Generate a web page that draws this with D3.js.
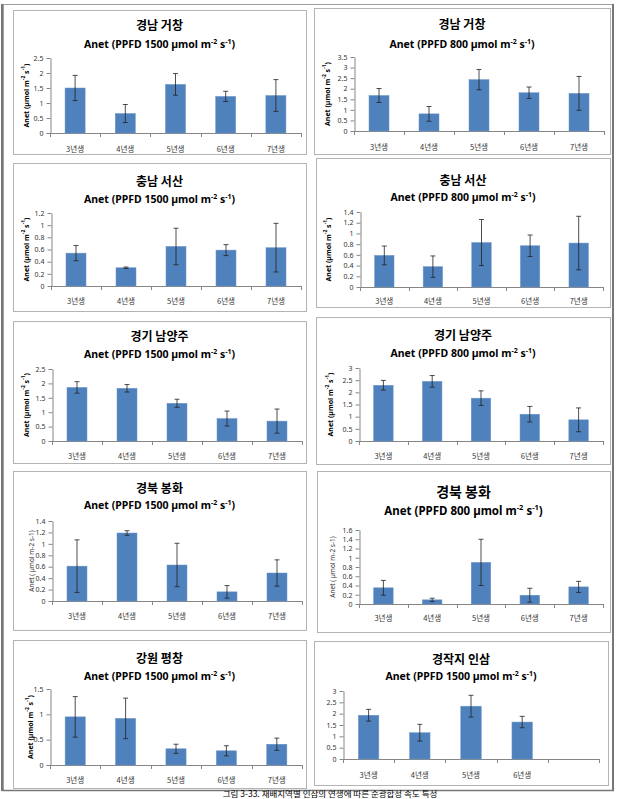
<!DOCTYPE html>
<html><head><meta charset="utf-8">
<script src="https://cdn.jsdelivr.net/npm/d3@7"></script>
<style>body{margin:0;background:#fff} svg{display:block}</style>
</head><body>
<script>
// ---------------- DATA ----------------
const categories = ["3년생", "4년생", "5년생", "6년생", "7년생"];
const categoriesCultivated = ["3년생", "4년생", "5년생", "6년생", ""];

const siteNames = ["경남 거창", "경남 거창", "충남 서산", "충남 서산", "경기 남양주",
                   "경기 남양주", "경북 봉화", "경북 봉화", "강원 평창", "경작지 인삼"];
const ppfdLevels = ["1500", "800", "1500", "800", "1500", "800", "1500", "800", "1500", "1500"];

const geochang1500 = [1.50, 0.65, 1.62, 1.22, 1.25];
const geochang1500Err = [0.42, 0.30, 0.36, 0.17, 0.53];
const geochang800 = [1.68, 0.81, 2.43, 1.81, 1.78];
const geochang800Err = [0.33, 0.35, 0.48, 0.27, 0.80];

const seosan1500 = [0.54, 0.30, 0.65, 0.59, 0.63];
const seosan1500Err = [0.125, 0.012, 0.30, 0.09, 0.40];
const seosan800 = [0.59, 0.38, 0.83, 0.77, 0.82];
const seosan800Err = [0.175, 0.20, 0.43, 0.20, 0.50];

const namyangju1500 = [1.86, 1.83, 1.31, 0.78, 0.69];
const namyangju1500Err = [0.20, 0.13, 0.14, 0.26, 0.42];
const namyangju800 = [2.29, 2.45, 1.76, 1.10, 0.87];
const namyangju800Err = [0.20, 0.24, 0.30, 0.32, 0.49];

const bonghwa1500 = [0.61, 1.19, 0.63, 0.16, 0.49];
const bonghwa1500Err = [0.46, 0.04, 0.38, 0.11, 0.23];
const bonghwa800 = [0.35, 0.09, 0.90, 0.19, 0.37];
const bonghwa800Err = [0.16, 0.035, 0.50, 0.15, 0.12];

const pyeongchang1500 = [0.95, 0.92, 0.32, 0.28, 0.41];
const pyeongchang1500Err = [0.40, 0.40, 0.09, 0.10, 0.12];

const cultivated1500 = [1.93, 1.16, 2.33, 1.63];
const cultivated1500Err = [0.26, 0.37, 0.48, 0.25];

const ticksA = [0, 0.5, 1, 1.5, 2, 2.5];
const ticksB = [0, 0.5, 1, 1.5, 2, 2.5, 3, 3.5];
const ticksC = [0, 0.2, 0.4, 0.6, 0.8, 1, 1.2];
const ticksD = [0, 0.2, 0.4, 0.6, 0.8, 1, 1.2, 1.4];
const ticksE = [0, 0.5, 1, 1.5, 2, 2.5, 3];
const ticksF = [0, 0.2, 0.4, 0.6, 0.8, 1, 1.2, 1.4, 1.6];
const ticksG = [0, 0.5, 1, 1.5];

const captionText = "그림 3-33. 재배지역별 인삼의 연생에 따른 순광합성 속도 특성";

// ---------------- PANELS (data refs) ----------------
const panelData = [
  {cats: categories, means: geochang1500, errs: geochang1500Err, ticks: ticksA},
  {cats: categories, means: geochang800, errs: geochang800Err, ticks: ticksB},
  {cats: categories, means: seosan1500, errs: seosan1500Err, ticks: ticksC},
  {cats: categories, means: seosan800, errs: seosan800Err, ticks: ticksD},
  {cats: categories, means: namyangju1500, errs: namyangju1500Err, ticks: ticksA},
  {cats: categories, means: namyangju800, errs: namyangju800Err, ticks: ticksE},
  {cats: categories, means: bonghwa1500, errs: bonghwa1500Err, ticks: ticksD},
  {cats: categories, means: bonghwa800, errs: bonghwa800Err, ticks: ticksF},
  {cats: categories, means: pyeongchang1500, errs: pyeongchang1500Err, ticks: ticksG},
  {cats: categoriesCultivated, means: cultivated1500, errs: cultivated1500Err, ticks: ticksE}
];

// ---------------- LAYOUT ----------------
// box: [x0,y0,x1,y1]; plot: [xLeft,xRight,yTop,yZero]
const layout = [
  {box:[13,10,306,154],  plot:[50,301,58,133],  t:24,  s:44,  lab:148, yt:26,  ytStyle:"sup", big:false},
  {box:[314,8,610,154],  plot:[354,604,57,131], t:23,  s:44,  lab:146, yt:327, ytStyle:"sup", big:false},
  {box:[13,163,306,311], plot:[51,301,213,286], t:180, s:199, lab:300, yt:26,  ytStyle:"sup", big:false},
  {box:[316,158,610,307],plot:[360,603,212,287],t:179, s:197, lab:300, yt:328, ytStyle:"sup", big:false},
  {box:[13,321,306,463], plot:[52,302,369,441], t:335, s:354, lab:455, yt:26,  ytStyle:"sup", big:false},
  {box:[316,317,610,464],plot:[359,603,368,441],t:334, s:353, lab:455, yt:330, ytStyle:"sup", big:false},
  {box:[13,471,306,630], plot:[52,302,521,601], t:487, s:505, lab:615, yt:31,  ytStyle:"plain", big:false},
  {box:[317,471,610,632],plot:[359,603,530,604],t:491, s:511, lab:617, yt:332, ytStyle:"plain", big:true},
  {box:[13,640,306,788], plot:[50,302,689,765], t:657, s:676, lab:779, yt:30,  ytStyle:"sup", big:false},
  {box:[314,641,608,785],plot:[343,599,691,759],t:658, s:676, lab:774, yt:null,ytStyle:null, big:false}
];

const W = 622, H = 799;
const KR = "'Noto Sans CJK KR', 'Noto Sans', sans-serif";
const LAT = "'Noto Sans', 'Open Sans', sans-serif";
const barColor = "#4F81BD";
const axisColor = "#868686";

const svg = d3.select("body").append("svg").attr("width", W).attr("height", H);

// outer frame
svg.append("rect").attr("x", 3.5).attr("y", 4.5).attr("width", 609).attr("height", 786)
  .attr("fill", "none").attr("stroke", "#a0a0a0").attr("stroke-width", 1);
svg.append("line").attr("x1", 2).attr("x2", 2).attr("y1", 4).attr("y2", 791)
  .attr("stroke", "#777").attr("stroke-width", 2);
svg.append("line").attr("x1", 613).attr("x2", 613).attr("y1", 4).attr("y2", 791)
  .attr("stroke", "#777").attr("stroke-width", 2);
svg.append("line").attr("x1", 2).attr("x2", 614).attr("y1", 790.5).attr("y2", 790.5)
  .attr("stroke", "#777").attr("stroke-width", 1.5);

function supText(sel, parts, supSize) {
  parts.forEach(([txt, sup]) => {
    const ts = sel.append("tspan").text(txt);
    if (sup) ts.attr("baseline-shift", "super").attr("font-size", supSize);
  });
}

panelData.forEach((P, i) => {
  const L = layout[i];
  const g = svg.append("g");
  const [bx0, by0, bx1, by1] = L.box;
  g.append("rect").attr("x", bx0 + 0.5).attr("y", by0 + 0.5)
    .attr("width", bx1 - bx0).attr("height", by1 - by0)
    .attr("fill", "#fff").attr("stroke", "#b4b4b4").attr("stroke-width", 1);

  const cx = (bx0 + bx1) / 2;
  // title
  g.append("text").attr("x", cx).attr("y", L.t).attr("text-anchor", "middle")
    .attr("dominant-baseline", "central")
    .attr("font-family", KR).attr("font-weight", "bold")
    .attr("font-size", L.big ? 14 : 12).attr("fill", "#000")
    .text(siteNames[i]);
  // subtitle
  const sub = g.append("text").attr("x", cx).attr("y", L.s + (L.big ? 4 : 3.5))
    .attr("text-anchor", "middle")
    .attr("font-family", LAT).attr("font-weight", "bold")
    .attr("font-size", L.big ? 11.5 : 10.5).attr("fill", "#000");
  supText(sub, [["Anet (PPFD " + ppfdLevels[i] + " µmol m", false], ["-2", true], [" s", false], ["-1", true], [")", false]],
    L.big ? 7.5 : 7);

  const [px0, px1, pyTop, pyZero] = L.plot;
  const x = d3.scaleBand().domain(P.cats).range([px0, px1]).paddingInner(0.6).paddingOuter(0.3);
  const y = d3.scaleLinear().domain([0, d3.max(P.ticks)]).range([pyZero, pyTop]);

  // y axis
  const yAxis = d3.axisLeft(y).tickValues(P.ticks).tickSize(4).tickSizeOuter(0)
    .tickPadding(3).tickFormat(d => String(d));
  const ya = g.append("g").attr("transform", `translate(${px0 + 0.5},0)`).call(yAxis);
  ya.select(".domain").attr("stroke", axisColor);
  ya.selectAll(".tick line").attr("stroke", axisColor);
  ya.selectAll(".tick text").attr("font-family", LAT).attr("font-size", 7).attr("fill", "#333");

  // x axis line and boundary ticks
  const x0 = x.range()[0];
  g.append("line").attr("x1", px0).attr("x2", px1).attr("y1", pyZero + 0.5).attr("y2", pyZero + 0.5)
    .attr("stroke", axisColor);
  d3.range(P.cats.length + 1).forEach(k => {
    const xx = Math.round(x0 + k * (px1 - px0) / P.cats.length) + 0.5;
    g.append("line").attr("x1", xx).attr("x2", xx).attr("y1", pyZero).attr("y2", pyZero + 4)
      .attr("stroke", axisColor);
  });
  // category labels
  g.selectAll(".cl").data(P.cats).enter().append("text")
    .attr("x", d => x(d) + x.bandwidth() / 2).attr("y", L.lab)
    .attr("text-anchor", "middle").attr("dominant-baseline", "central")
    .attr("font-family", KR).attr("font-size", 7.5).attr("fill", "#333")
    .text(d => d);

  // bars
  const rows = P.means.map((m, k) => ({c: P.cats[k], m: m, e: P.errs[k]}));
  g.selectAll(".bar").data(rows).enter().append("rect")
    .attr("x", d => x(d.c)).attr("width", x.bandwidth())
    .attr("y", d => y(d.m)).attr("height", d => y(0) - y(d.m))
    .attr("fill", barColor).attr("stroke", "#6e97c8").attr("stroke-width", 0.5);

  // error bars
  const eg = g.selectAll(".err").data(rows).enter().append("g");
  eg.append("line")
    .attr("x1", d => x(d.c) + x.bandwidth() / 2).attr("x2", d => x(d.c) + x.bandwidth() / 2)
    .attr("y1", d => y(d.m + d.e)).attr("y2", d => y(Math.max(0, d.m - d.e)))
    .attr("stroke", "#222").attr("stroke-width", 0.8);
  [1, -1].forEach(sgn => {
    eg.append("line")
      .attr("x1", d => x(d.c) + x.bandwidth() / 2 - 2.5).attr("x2", d => x(d.c) + x.bandwidth() / 2 + 2.5)
      .attr("y1", d => y(d.m + sgn * d.e)).attr("y2", d => y(d.m + sgn * d.e))
      .attr("stroke", "#222").attr("stroke-width", 0.8);
  });

  // y axis title
  if (L.yt !== null) {
    const midY = (pyTop + pyZero) / 2;
    const yt = g.append("text").attr("transform", `translate(${L.yt},${midY}) rotate(-90)`)
      .attr("text-anchor", "middle").attr("dominant-baseline", "central")
      .attr("font-family", LAT).attr("fill", "#000");
    if (L.ytStyle === "sup") {
      yt.attr("font-weight", "bold").attr("font-size", 7);
      supText(yt, [["Anet (µmol m", false], ["-2", true], [" s", false], ["-1", true], [")", false]], 5);
    } else {
      yt.attr("font-size", 6.5).attr("fill", "#333").text("Anet ( µmol m-2 s-1)");
    }
  }
});

// caption at the bottom edge
svg.append("text").attr("x", 330).attr("y", 797).attr("text-anchor", "middle")
  .attr("font-family", KR).attr("font-size", 8.5).attr("fill", "#000")
  .text(captionText);
</script>
</body></html>
